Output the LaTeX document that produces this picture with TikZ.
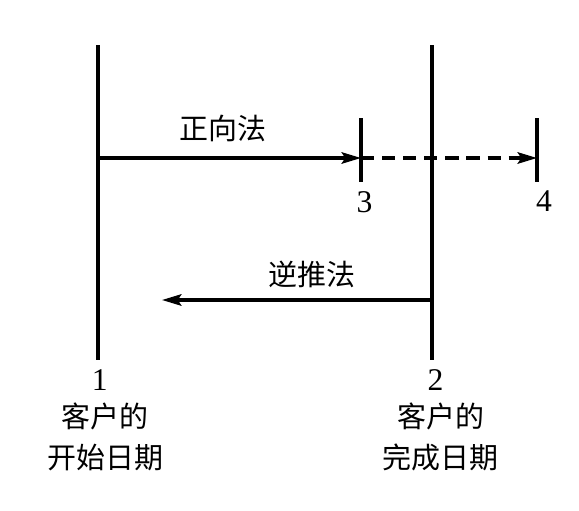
\documentclass[tikz,border=0pt]{standalone}
\usepackage{fontspec}
\setmainfont{Liberation Serif}
\newfontfamily\cjk{Noto Sans CJK SC}
\usetikzlibrary{positioning,arrows.meta}

\begin{document}
\begin{tikzpicture}[
  x=0.02cm, y=-0.02cm,
  node distance=3pt,
  dateline/.style={line width=2pt},
  flow/.style={line width=1.8pt, -{Stealth[length=11pt,width=6.5pt,inset=2pt]}},
  cjklabel/.style={font=\fontsize{16.5}{23.5}\selectfont\cjk, align=center, inner sep=1pt},
  numlabel/.style={font=\fontsize{18}{20}\selectfont, inner sep=1pt}
]
  \useasboundingbox (0,0) rectangle (579,511);
  % date lines
  \coordinate (top1) at (98,45);
  \coordinate (bot1) at (98,360);
  \coordinate (top2) at (432,45);
  \coordinate (bot2) at (432,360);
  \draw[dateline] (top1) -- (bot1);
  \draw[dateline] (top2) -- (bot2);
  % ticks 3 and 4
  \coordinate (tick3top) at (361,118);
  \coordinate (tick3bot) at (361,182);
  \coordinate (tick4top) at (537,118);
  \coordinate (tick4bot) at (537,182);
  \draw[dateline] (tick3top) -- (tick3bot);
  \draw[dateline] (tick4top) -- (tick4bot);
  % forward and backward passes
  \coordinate (fwdstart) at (98,158);
  \coordinate (fwdend) at (361,158);
  \coordinate (fwdlate) at (537,158);
  \coordinate (bwdstart) at (432,300);
  \coordinate (bwdend) at (162,300);
  \draw[flow] (fwdstart) -- (fwdend);
  \draw[flow, dash pattern=on 7.5pt off 4.5pt] (fwdend) -- (fwdlate);
  \draw[flow] (bwdstart) -- (bwdend);
  \node[cjklabel] (fwdlabel) at (223,128) {正向法};
  \node[cjklabel] (bwdlabel) at (312,274) {逆推法};
  % numbers
  \node[numlabel, below=4pt of tick3bot, xshift=2pt] (num3) {3};
  \node[numlabel, below=4pt of tick4bot, xshift=4pt] (num4) {4};
  \node[numlabel, below=4pt of bot1, xshift=1pt] (num1) {1};
  \node[numlabel, below=4pt of bot2, xshift=2pt] (num2) {2};
  \node[cjklabel, below=5pt of num1, xshift=3pt] (start) {客户的\\开始日期};
  \node[cjklabel, below=5pt of num2, xshift=3pt] (finish) {客户的\\完成日期};
\end{tikzpicture}
\end{document}
